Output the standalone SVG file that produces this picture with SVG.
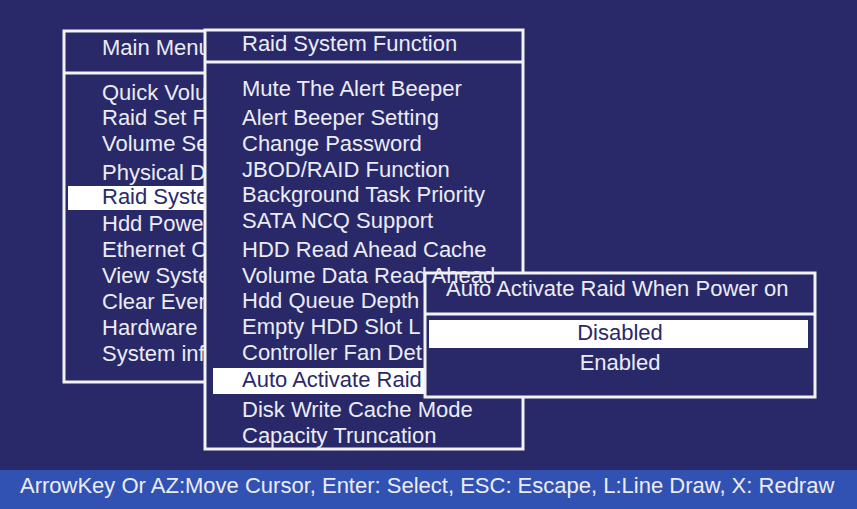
<svg xmlns="http://www.w3.org/2000/svg" width="857" height="509" viewBox="0 0 857 509">
<style>
.box{fill:#29296a;stroke:#f2f2f2;stroke-width:3}
.t{font-family:"Liberation Sans",Arial,sans-serif;font-size:22px;fill:#ececf4}
.h{fill:#29296a}
.sel{fill:#ffffff}
</style>
<rect width="857" height="509" fill="#29296a"/>
<g id="main-menu">
<rect class="box" x="64" y="31" width="160" height="351"/>
<line x1="64" y1="73" x2="224" y2="73" stroke="#f2f2f2" stroke-width="3"/>
<rect class="sel" x="68" y="186" width="156" height="24"/>
<g class="t">
<text x="102" y="55">Main Menu</text>
<text x="102" y="100">Quick Volu</text>
<text x="102" y="125">Raid Set F</text>
<text x="102" y="151">Volume Se</text>
<text x="102" y="180">Physical D</text>
<text x="102" y="204" class="h">Raid Syste</text>
<text x="102" y="231">Hdd Power</text>
<text x="102" y="257">Ethernet C</text>
<text x="102" y="283">View Syste</text>
<text x="102" y="309">Clear Even</text>
<text x="102" y="335">Hardware</text>
<text x="102" y="361">System inf</text>
</g>
</g>
<g id="raid-system-function">
<rect class="box" x="205" y="30" width="318" height="419"/>
<line x1="205" y1="62" x2="523" y2="62" stroke="#f2f2f2" stroke-width="3"/>
<rect class="sel" x="213" y="368" width="214" height="26"/>
<g class="t">
<text x="242" y="51">Raid System Function</text>
<text x="242" y="96">Mute The Alert Beeper</text>
<text x="242" y="125">Alert Beeper Setting</text>
<text x="242" y="151">Change Password</text>
<text x="242" y="177">JBOD/RAID Function</text>
<text x="242" y="202">Background Task Priority</text>
<text x="242" y="228">SATA NCQ Support</text>
<text x="242" y="257">HDD Read Ahead Cache</text>
<text x="242" y="308">Hdd Queue Depth</text>
<text x="242" y="334">Empty HDD Slot L</text>
<text x="242" y="360">Controller Fan Det</text>
<text x="242" y="387" class="h">Auto Activate Raid</text>
<text x="242" y="417">Disk Write Cache Mode</text>
<text x="242" y="443">Capacity Truncation</text>
</g>
</g>
<g id="auto-activate">
<rect class="box" x="425" y="273" width="390" height="124"/>
<line x1="425" y1="314" x2="815" y2="314" stroke="#f2f2f2" stroke-width="3"/>
<rect class="sel" x="429" y="320" width="379" height="28"/>
<g class="t">
<text x="446" y="296">Auto Activate Raid When Power on</text>
<text x="620" y="340" text-anchor="middle" class="h">Disabled</text>
<text x="620" y="370" text-anchor="middle">Enabled</text>
</g>
</g>
<text class="t" x="242" y="283">Volume Data Read Ahead</text>
<g id="status-bar">
<rect x="0" y="470" width="857" height="39" fill="#3152b2"/>
<text class="t" x="20" y="493">ArrowKey Or AZ:Move Cursor, Enter: Select, ESC: Escape, L:Line Draw, X: Redraw</text>
</g>
<g id="connectors"/>
</svg>
